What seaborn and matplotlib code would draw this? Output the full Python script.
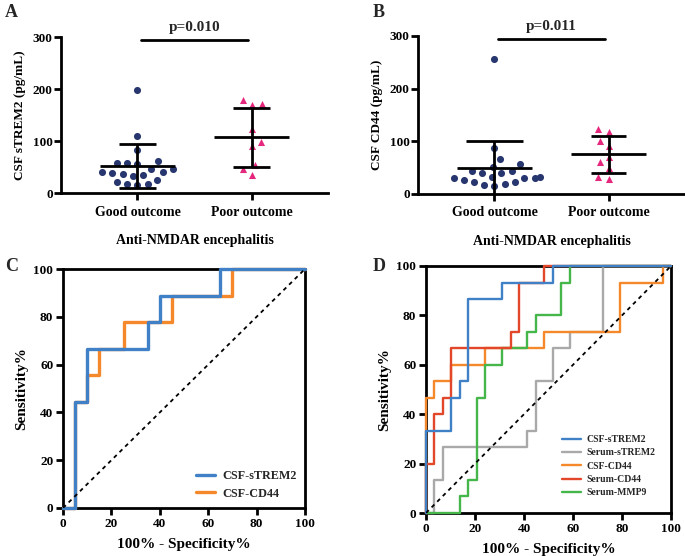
import numpy as np
import pandas as pd
import matplotlib
matplotlib.use("Agg")
import matplotlib.pyplot as plt
import seaborn as sns

# ---------------- data ----------------
groups = ["Good outcome", "Poor outcome"]

good_trem2 = [199, 110, 83, 61.5, 57, 57, 55, 47, 47, 41, 41, 39, 37, 35, 33, 25, 21, 17, 17, 16]
poor_trem2 = [179, 170.5, 168.6, 124, 98.7, 90, 53, 45.5, 35]
good_cd44 = [256.7, 87.9, 66.4, 56.3, 51.9, 44.3, 44.3, 40.5, 40.5, 32.9, 32.9, 31, 31, 31,
             26.6, 22.8, 22.8, 18.3, 16.4, 14.6]
poor_cd44 = [122.7, 118.3, 101, 91, 70.8, 61.3, 50, 32.9, 29]
p_texts = ["p=0.010", "p=0.011"]

# ROC panel C (100% - specificity, sensitivity)
c_trem2_x = [0, 5, 5, 10, 10, 35, 35, 40, 40, 65, 65, 100]
c_trem2_y = [0, 0, 44.4, 44.4, 66.7, 66.7, 77.8, 77.8, 88.9, 88.9, 100, 100]
c_cd44_x = [0, 5, 5, 10, 10, 15, 15, 25, 25, 45, 45, 70, 70, 100]
c_cd44_y = [0, 0, 44.4, 44.4, 55.6, 55.6, 66.7, 66.7, 77.8, 77.8, 88.9, 88.9, 100, 100]

# ROC panel D
d_csf_trem2_x = [0, 0, 10.3, 10.3, 13.8, 13.8, 17.2, 17.2, 31.0, 31.0, 51.7, 51.7, 100]
d_csf_trem2_y = [0, 33.3, 33.3, 46.7, 46.7, 53.3, 53.3, 86.7, 86.7, 93.3, 93.3, 100, 100]
d_ser_trem2_x = [0, 3.4, 3.4, 6.9, 6.9, 41.4, 41.4, 44.8, 44.8, 51.7, 51.7, 58.6, 58.6, 72.4, 72.4, 100]
d_ser_trem2_y = [0, 0, 13.3, 13.3, 26.7, 26.7, 33.3, 33.3, 53.3, 53.3, 66.7, 66.7, 73.3, 73.3, 100, 100]
d_csf_cd44_x = [0, 0, 3.4, 3.4, 10.3, 10.3, 24.1, 24.1, 48.3, 48.3, 79.3, 79.3, 96.6, 96.6, 100]
d_csf_cd44_y = [0, 46.7, 46.7, 53.3, 53.3, 60, 60, 66.7, 66.7, 73.3, 73.3, 93.3, 93.3, 100, 100]
d_ser_cd44_x = [0, 0, 3.4, 3.4, 6.9, 6.9, 10.3, 10.3, 34.5, 34.5, 37.9, 37.9, 48.3, 48.3, 100]
d_ser_cd44_y = [0, 20, 20, 40, 40, 46.7, 46.7, 66.7, 66.7, 73.3, 73.3, 93.3, 93.3, 100, 100]
d_ser_mmp9_x = [0, 13.8, 13.8, 17.2, 17.2, 20.7, 20.7, 24.1, 24.1, 31.0, 31.0, 41.4, 41.4, 44.8, 44.8,
                55.2, 55.2, 58.6, 58.6, 100]
d_ser_mmp9_y = [0, 0, 6.7, 6.7, 13.3, 13.3, 46.7, 46.7, 60, 60, 66.7, 66.7, 73.3, 73.3, 80, 80,
                93.3, 93.3, 100, 100]

# ---------------- style ----------------
sns.set_theme(style="ticks")
plt.rcParams["font.family"] = ["Liberation Serif", "DejaVu Serif"]
plt.rcParams["font.weight"] = "bold"
plt.rcParams["axes.labelweight"] = "bold"

NAVY = "#27366e"
PINK = "#e5277d"
BLUE = "#3f80c6"
GRAY = "#a9a9a9"
ORANGE = "#f5882b"
RED = "#e2472a"
GREEN = "#45b64a"

W, H = 685, 556
fig = plt.figure(figsize=(W / 100, H / 100), dpi=100)


def add_ax(l, t, r, b):
    return fig.add_axes([l / W, 1 - b / H, (r - l) / W, (b - t) / H])


axA = add_ax(61, 37, 328, 193)
axB = add_ax(418, 36, 685, 194)
axC = add_ax(63, 269, 305, 508)
axD = add_ax(426, 266, 671, 513)


def scatter_panel(ax, good, poor, ylabel, ptext, cap_w):
    for g, vals, col, mk in [(groups[0], good, NAVY, "o"), (groups[1], poor, PINK, "^")]:
        df = pd.DataFrame({"group": [g] * len(vals), "value": vals})
        sns.swarmplot(data=df, x="group", y="value", order=groups, color=col,
                      marker=mk, size=7.2, ax=ax, zorder=3)
    ax.set_xlim(-0.67, 1.67)
    ax.set_ylim(0, 300)
    ax.set_yticks([0, 100, 200, 300])
    for i, vals in enumerate([good, poor]):
        m = np.mean(vals)
        sd = np.std(vals, ddof=1)
        ax.hlines(m, i - 0.33, i + 0.33, color="black", lw=2, zorder=4)
        ax.vlines(i, max(m - sd, 0), m + sd, color="black", lw=2, zorder=4)
        ax.hlines(m + sd, i - cap_w[i] / 2, i + cap_w[i] / 2, color="black", lw=2, zorder=4)
        if m - sd > 0:
            ax.hlines(m - sd, i - cap_w[i] / 2, i + cap_w[i] / 2, color="black", lw=2, zorder=4)
    ax.plot([0.03, 0.97], [295, 295], color="black", lw=2, clip_on=False)
    ax.text(0.5, 318, ptext, ha="center", va="center", fontsize=11, clip_on=False)
    sns.despine(ax=ax)
    for s in ["left", "bottom"]:
        ax.spines[s].set_linewidth(2)
        ax.spines[s].set_color("black")
    ax.tick_params(axis="both", width=2, length=5, color="black", labelcolor="black")
    ax.tick_params(axis="y", labelsize=9.5, pad=1)
    ax.tick_params(axis="x", labelsize=10, pad=4)
    ax.set_xlabel("Anti-NMDAR encephalitis", fontsize=10, labelpad=11, color="black")
    ax.set_ylabel(ylabel, fontsize=9.5, labelpad=5, color="black")


scatter_panel(axA, good_trem2, poor_trem2, "CSF sTREM2 (pg/mL)", p_texts[0], [0.33, 0.33])
scatter_panel(axB, good_cd44, poor_cd44, "CSF CD44 (pg/mL)", p_texts[1], [0.5, 0.31])


def roc_style(ax, lw_spine=2):
    ax.set_xlim(0, 100)
    ax.set_ylim(0, 100)
    ax.set_xticks(range(0, 101, 20))
    ax.set_yticks(range(0, 101, 20))
    for s in ax.spines.values():
        s.set_linewidth(lw_spine)
        s.set_color("black")
    ax.tick_params(axis="both", width=2, length=5, color="black", labelcolor="black",
                   labelsize=9.5, top=False, right=False, pad=2)
    ax.plot([0, 100], [0, 100], color="black", lw=1.3, ls=(0, (2.2, 2.2)), zorder=10)
    ax.set_xlabel("100% - Specificity%", fontsize=11, labelpad=6, color="black")
    ax.set_ylabel("Sensitivity%", fontsize=11, labelpad=4, color="black")


# Panel C
dC = [("CSF-CD44", c_cd44_x, c_cd44_y, ORANGE), ("CSF-sTREM2", c_trem2_x, c_trem2_y, BLUE)]
for name, xs, ys, col in dC:
    sns.lineplot(x=xs, y=ys, sort=False, estimator=None, color=col, lw=2.4, ax=axC,
                 label=name, zorder=3, clip_on=False)
roc_style(axC)
h, l = axC.get_legend_handles_labels()
order = [l.index("CSF-sTREM2"), l.index("CSF-CD44")]
axC.legend([h[i] for i in order], [l[i] for i in order], loc="lower right", frameon=False,
           fontsize=8.7, handlelength=1.6, handletextpad=0.6, labelspacing=0.45,
           borderaxespad=0.3)

# Panel D
dD = [("Serum-sTREM2", d_ser_trem2_x, d_ser_trem2_y, GRAY),
      ("CSF-CD44", d_csf_cd44_x, d_csf_cd44_y, ORANGE),
      ("Serum-MMP9", d_ser_mmp9_x, d_ser_mmp9_y, GREEN),
      ("Serum-CD44", d_ser_cd44_x, d_ser_cd44_y, RED),
      ("CSF-sTREM2", d_csf_trem2_x, d_csf_trem2_y, BLUE)]
for name, xs, ys, col in dD:
    sns.lineplot(x=xs, y=ys, sort=False, estimator=None, color=col, lw=1.7, ax=axD,
                 label=name, zorder=3, clip_on=False)
roc_style(axD)
h, l = axD.get_legend_handles_labels()
leg_order = ["CSF-sTREM2", "Serum-sTREM2", "CSF-CD44", "Serum-CD44", "Serum-MMP9"]
idx = [l.index(n) for n in leg_order]
axD.legend([h[i] for i in idx], [l[i] for i in idx], loc="lower right", frameon=False,
           fontsize=7, handlelength=1.9, handletextpad=0.6, labelspacing=0.45,
           borderaxespad=1.2)

# panel letters
for txt, x, y in [("A", 5, 4), ("B", 373, 4), ("C", 5, 258), ("D", 373, 258)]:
    fig.text(x / W, 1 - y / H, txt, fontsize=13, fontweight="bold", va="top", ha="left")

# compute swarm layout with wider spacing, then display with smaller markers
fig.canvas.draw()
for ax in (axA, axB):
    for coll in ax.collections:
        if "draw" in coll.__dict__:
            del coll.draw
            coll.set_sizes([26])

fig.savefig("out.png", dpi=100)
